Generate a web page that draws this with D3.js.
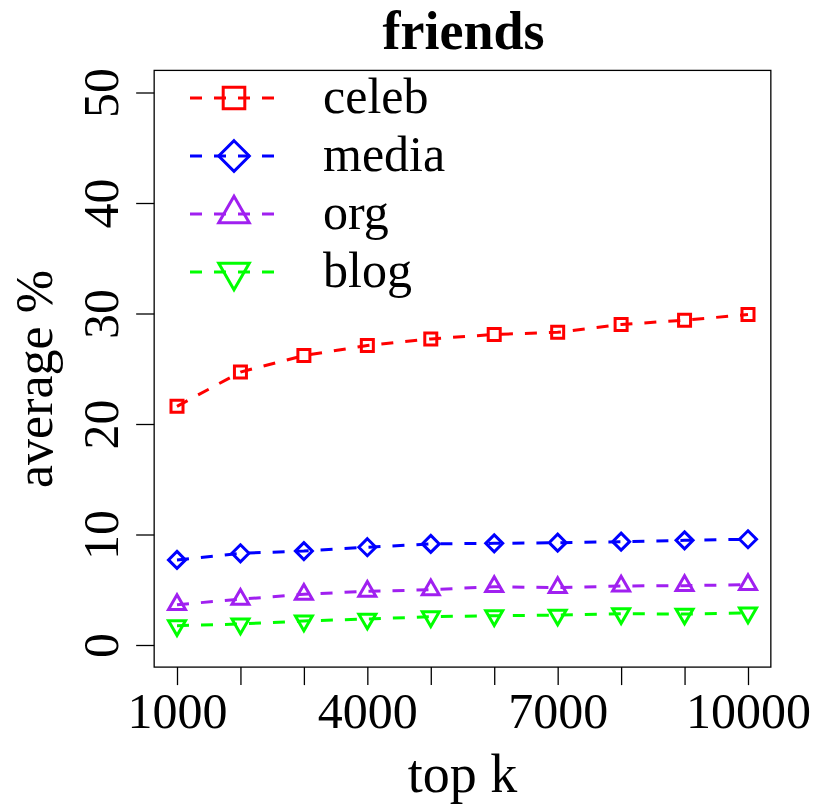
<!DOCTYPE html>
<html>
<head>
<meta charset="utf-8">
<script src="https://cdn.jsdelivr.net/npm/d3@7"></script>
<style>
  body { margin: 0; background: #fff; }
  text { font-family: "Liberation Serif", "Times New Roman", serif; }
</style>
</head>
<body>
<svg id="chart"></svg>
<script>
// data
const topK = [1000, 2000, 3000, 4000, 5000, 6000, 7000, 8000, 9000, 10000];
const celeb = [21.6, 24.7, 26.2, 27.1, 27.7, 28.1, 28.3, 29.0, 29.4, 29.9];
const media = [7.7, 8.3, 8.5, 8.85, 9.15, 9.2, 9.26, 9.35, 9.47, 9.57];
const org = [3.65, 4.14, 4.59, 4.86, 5.0, 5.28, 5.19, 5.34, 5.37, 5.46];
const blog = [1.75, 1.9, 2.17, 2.35, 2.56, 2.65, 2.71, 2.83, 2.8, 2.9];
const xLabels = [1000, 4000, 7000, 10000];
const yTicks = [0, 10, 20, 30, 40, 50];

const series = [
  { name: "celeb", values: celeb, color: "#FF0000", shape: "square" },
  { name: "media", values: media, color: "#0000FF", shape: "diamond" },
  { name: "org", values: org, color: "#A020F0", shape: "up" },
  { name: "blog", values: blog, color: "#00FF00", shape: "down" },
];

const W = 818, H = 805;
const svg = d3.select("#chart").attr("width", W).attr("height", H);

// scales (R style: 4% padding around the data range)
const x = d3.scaleLinear().domain([1000, 10000]).range([177, 748]);
const y = d3.scaleLinear().domain([0, 50]).range([645, 92.5]);
const boxL = x(640), boxR = x(10360), boxT = y(52), boxB = y(-2);

// marker paths, s = size scale
function markerPath(shape, s) {
  const p = d3.path();
  if (shape === "square") {
    const h = 6 * s;
    p.rect(-h, -h, 2 * h, 2 * h);
  } else if (shape === "diamond") {
    const h = 8.5 * s;
    p.moveTo(0, -h); p.lineTo(h, 0); p.lineTo(0, h); p.lineTo(-h, 0); p.closePath();
  } else {
    const r = 6.3 * s, dir = shape === "up" ? 1 : -1;
    p.moveTo(0, -1.555 * r * dir);
    p.lineTo(1.347 * r, 0.778 * r * dir);
    p.lineTo(-1.347 * r, 0.778 * r * dir);
    p.closePath();
  }
  return p.toString();
}

// box
svg.append("rect")
  .attr("x", boxL).attr("y", boxT)
  .attr("width", boxR - boxL).attr("height", boxB - boxT)
  .attr("fill", "none").attr("stroke", "#000").attr("stroke-width", 1.3);

// x axis
const xAxis = svg.append("g")
  .attr("transform", "translate(0," + boxB + ")")
  .call(d3.axisBottom(x).tickValues(topK).tickSize(18)
    .tickFormat((d) => (xLabels.includes(d) ? d : "")));
xAxis.select(".domain").remove();
xAxis.selectAll("line").attr("stroke", "#000").attr("stroke-width", 1.3);
xAxis.selectAll("text")
  .attr("y", 61).attr("dy", 0)
  .attr("font-size", 50).attr("fill", "#000");

// y axis
const yAxis = svg.append("g")
  .attr("transform", "translate(" + boxL + ",0)")
  .call(d3.axisLeft(y).tickValues(yTicks).tickSize(18));
yAxis.select(".domain").remove();
yAxis.selectAll("line").attr("stroke", "#000").attr("stroke-width", 1.3);
yAxis.selectAll("text")
  .attr("x", 0).attr("dy", 0)
  .attr("transform", "translate(-36,0) rotate(-90)")
  .attr("text-anchor", "middle")
  .attr("font-size", 50).attr("fill", "#000");

// title and axis labels
svg.append("text")
  .attr("x", (boxL + boxR) / 2 + 1).attr("y", 49)
  .attr("text-anchor", "middle")
  .attr("font-size", 54).attr("font-weight", "bold")
  .text("friends");

svg.append("text")
  .attr("x", (boxL + boxR) / 2).attr("y", 792)
  .attr("text-anchor", "middle")
  .attr("font-size", 54)
  .text("top k");

svg.append("text")
  .attr("transform", "translate(52,379) rotate(-90)")
  .attr("text-anchor", "middle")
  .attr("font-size", 52)
  .text("average %");

// lines + markers
const line = d3.line()
  .x((d, i) => x(topK[i]))
  .y((d) => y(d));

series.forEach((s) => {
  svg.append("path")
    .datum(s.values)
    .attr("d", line)
    .attr("fill", "none")
    .attr("stroke", s.color)
    .attr("stroke-width", 3)
    .attr("stroke-dasharray", "12,12");

  svg.selectAll(".pt-" + s.name)
    .data(s.values)
    .enter()
    .append("path")
    .attr("class", "pt-" + s.name)
    .attr("transform", (d, i) => "translate(" + x(topK[i]) + "," + y(d) + ")")
    .attr("d", markerPath(s.shape, 1))
    .attr("fill", "none")
    .attr("stroke", s.color)
    .attr("stroke-width", 3);
});

// legend
const legend = svg.append("g");
series.forEach((s, i) => {
  const ly = 98 + i * 58;
  legend.append("line")
    .attr("x1", 190).attr("x2", 280)
    .attr("y1", ly).attr("y2", ly)
    .attr("stroke", s.color).attr("stroke-width", 3)
    .attr("stroke-dasharray", "12,12");
  legend.append("path")
    .attr("transform", "translate(234," + ly + ")")
    .attr("d", markerPath(s.shape, 1.8))
    .attr("fill", "none")
    .attr("stroke", s.color)
    .attr("stroke-width", 3);
  legend.append("text")
    .attr("x", 323).attr("y", ly + 15)
    .attr("font-size", 50)
    .text(s.name);
});
</script>
</body>
</html>
